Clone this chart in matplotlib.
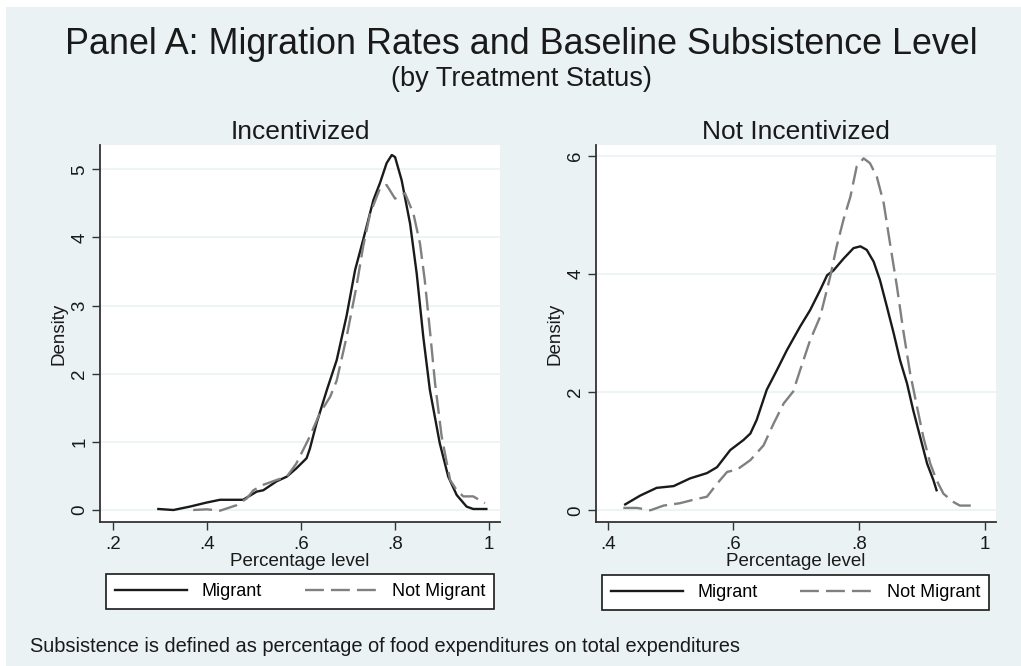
import matplotlib
matplotlib.use("Agg")
import matplotlib.pyplot as plt
from matplotlib.patches import Rectangle
from matplotlib.lines import Line2D
from matplotlib.ticker import FuncFormatter

plt.rcParams['font.family'] = ['Liberation Sans', 'DejaVu Sans']

# kernel density estimates, read per group
inc_mig_x = [0.297, 0.329, 0.364, 0.400, 0.428, 0.477, 0.506, 0.520, 0.548, 0.570, 0.590,
             0.612, 0.619, 0.633, 0.655, 0.676, 0.697, 0.715, 0.732, 0.754, 0.768, 0.782,
             0.793, 0.800, 0.814, 0.832, 0.846, 0.860, 0.874, 0.895, 0.913, 0.931, 0.952,
             0.966, 0.994]
inc_mig_y = [0.015, 0.0, 0.05, 0.11, 0.15, 0.15, 0.27, 0.29, 0.42, 0.49, 0.61,
             0.76, 0.90, 1.27, 1.76, 2.20, 2.85, 3.52, 3.96, 4.55, 4.80, 5.09,
             5.21, 5.18, 4.84, 4.20, 3.47, 2.54, 1.76, 0.98, 0.49, 0.22, 0.05,
             0.015, 0.015]
inc_non_x = [0.371, 0.400, 0.428, 0.463, 0.485, 0.499, 0.520, 0.548, 0.570, 0.590, 0.619,
             0.640, 0.662, 0.676, 0.697, 0.718, 0.732, 0.747, 0.768, 0.782, 0.800, 0.821,
             0.839, 0.853, 0.863, 0.874, 0.885, 0.899, 0.917, 0.931, 0.945, 0.966, 0.991]
inc_non_y = [0.0, 0.01, -0.01, 0.07, 0.17, 0.29, 0.37, 0.44, 0.49, 0.68, 1.08,
             1.42, 1.66, 1.90, 2.54, 3.28, 3.86, 4.35, 4.72, 4.77, 4.57, 4.65,
             4.35, 3.91, 3.38, 2.64, 1.86, 1.08, 0.44, 0.29, 0.20, 0.20, 0.10]

not_mig_x = [0.428, 0.452, 0.478, 0.505, 0.531, 0.558, 0.574, 0.595, 0.616, 0.627, 0.637,
             0.653, 0.669, 0.685, 0.706, 0.722, 0.738, 0.749, 0.759, 0.775, 0.791, 0.802,
             0.812, 0.823, 0.833, 0.844, 0.855, 0.865, 0.876, 0.886, 0.897, 0.908, 0.918,
             0.923]
not_mig_y = [0.10, 0.25, 0.38, 0.41, 0.54, 0.63, 0.73, 1.02, 1.19, 1.30, 1.53,
             2.04, 2.37, 2.71, 3.11, 3.39, 3.73, 3.98, 4.06, 4.26, 4.44, 4.47,
             4.41, 4.21, 3.90, 3.45, 2.99, 2.54, 2.15, 1.69, 1.24, 0.79, 0.51,
             0.34]
not_non_x = [0.425, 0.447, 0.468, 0.489, 0.515, 0.537, 0.558, 0.574, 0.590, 0.606, 0.627,
             0.648, 0.664, 0.680, 0.695, 0.706, 0.722, 0.738, 0.754, 0.764, 0.775, 0.786,
             0.796, 0.807, 0.817, 0.828, 0.839, 0.849, 0.860, 0.870, 0.881, 0.892, 0.902,
             0.913, 0.923, 0.934, 0.950, 0.960, 0.982]
not_non_y = [0.04, 0.04, 0.0, 0.08, 0.12, 0.18, 0.23, 0.45, 0.65, 0.69, 0.85,
             1.10, 1.47, 1.81, 2.01, 2.37, 2.88, 3.28, 3.96, 4.46, 4.92, 5.31,
             5.82, 5.96, 5.88, 5.65, 5.20, 4.52, 3.79, 3.05, 2.32, 1.75, 1.24,
             0.79, 0.51, 0.28, 0.14, 0.08, 0.08]

inc_xticks = [0.2, 0.4, 0.6, 0.8, 1.0]
inc_yticks = [0, 1, 2, 3, 4, 5]
not_xticks = [0.4, 0.6, 0.8, 1.0]
not_yticks = [0, 2, 4, 6]

W, H = 1021, 666
BG = '#EAF2F3'
fig = plt.figure(figsize=(W / 100, H / 100), dpi=100, facecolor='white')
fig.patches.append(Rectangle((6 / W, 0), 1, 1 - 7 / H, transform=fig.transFigure,
                             facecolor=BG, edgecolor='none', zorder=-10))


def stata_fmt(v, pos):
    s = '%g' % v
    return s[1:] if s.startswith('0.') else s


def panel(rect, title, xm, ym, xn, yn, xlim, ylim, xticks, yticks, leg_rect):
    l, t, r, b = rect
    ax = fig.add_axes([l / W, 1 - b / H, (r - l) / W, (b - t) / H])
    ax.set_facecolor('white')
    ax.plot(xm, ym, color='#1a1a1a', lw=1.7, solid_joinstyle='round')
    ax.plot(xn, yn, color='#808080', lw=1.7, ls=(0, (8, 3)))
    ax.set_xlim(*xlim)
    ax.set_ylim(*ylim)
    ax.set_xticks(xticks)
    ax.set_yticks(yticks)
    ax.xaxis.set_major_formatter(FuncFormatter(stata_fmt))
    ax.yaxis.set_major_formatter(FuncFormatter(stata_fmt))
    ax.grid(axis='y', color=BG, lw=1.2)
    ax.set_axisbelow(True)
    for s in ['top', 'right']:
        ax.spines[s].set_visible(False)
    for s in ['left', 'bottom']:
        ax.spines[s].set_color('#333333')
        ax.spines[s].set_linewidth(1.3)
    ax.tick_params(direction='out', length=5.5, width=1, color='#333333',
                   labelsize=13.5, labelcolor='#1a1a1a', pad=3)
    ax.tick_params(axis='x', pad=4.5)
    for lab in ax.get_yticklabels():
        lab.set_rotation(90)
        lab.set_va('center')
    ax.set_ylabel('Density', fontsize=13.5, color='#1a1a1a', labelpad=3)
    ax.set_xlabel('Percentage level', fontsize=13.5, color='#1a1a1a', labelpad=0)
    ax.set_title(title, fontsize=19, color='#1a1a1a', pad=4)

    handles = [Line2D([], [], color='#1a1a1a', lw=1.7),
               Line2D([], [], color='#808080', lw=1.7, ls=(0, (8, 3)))]
    lx0, ly0, lx1, ly1 = leg_rect
    leg = fig.legend(handles, ['Migrant', 'Not Migrant'], ncol=2, mode='expand',
                     loc='lower left',
                     bbox_to_anchor=(lx0 / W, 1 - ly1 / H, (lx1 - lx0) / W, (ly1 - ly0) / H),
                     fontsize=13, frameon=True, fancybox=False, edgecolor='#1a1a1a',
                     facecolor='white', framealpha=1, handlelength=4.0,
                     handletextpad=0.8, borderpad=0.5, borderaxespad=0)
    leg.get_frame().set_linewidth(1.2)
    return ax


panel((100, 145, 500, 522), 'Incentivized', inc_mig_x, inc_mig_y, inc_non_x, inc_non_y,
      (0.173, 1.023), (-0.176, 5.357), inc_xticks, inc_yticks, (106, 577, 494, 609))
panel((596, 145, 996, 522), 'Not Incentivized', not_mig_x, not_mig_y, not_non_x, not_non_y,
      (0.3816, 1.0175), (-0.198, 6.186), not_xticks, not_yticks, (602, 577, 989, 610))

fig.text(521 / W, 1 - 44 / H, 'Panel A: Migration Rates and Baseline Subsistence Level',
         ha='center', va='center', fontsize=25.8, color='#1a1a1a')
fig.text(521 / W, 1 - 79 / H, '(by Treatment Status)',
         ha='center', va='center', fontsize=19.5, color='#1a1a1a')
fig.text(30 / W, 1 - 646 / H,
         'Subsistence is defined as percentage of food expenditures on total expenditures',
         ha='left', va='center', fontsize=14.4, color='#1a1a1a')

fig.savefig('out.png', dpi=100, facecolor=fig.get_facecolor())
